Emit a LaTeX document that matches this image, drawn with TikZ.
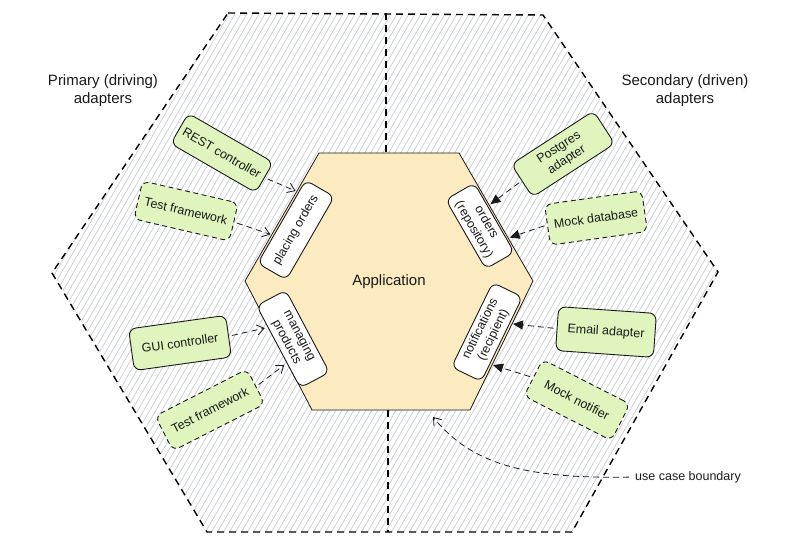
\documentclass[tikz,border=0pt]{standalone}
\usepackage{fontspec,xcolor,tikz}
\setmainfont{Liberation Sans}
\usetikzlibrary{arrows.meta,calc}
\definecolor{ink}{HTML}{1A1A1A}
\definecolor{hatch}{HTML}{CDD1D8}
\definecolor{core}{HTML}{FCEAC0}
\definecolor{adapt}{HTML}{DFF5BD}
\newcommand{\hlbl}{\fontsize{15}{18}\selectfont}
\newcommand{\lbl}{\fontsize{12.5}{14.5}\selectfont}

\begin{document}
\begin{tikzpicture}[x=1pt,y=-1pt,font=\lbl,text=ink,
  adapter/.style={draw=ink,line width=0.9pt,fill=adapt,rounded corners=7pt,minimum width=98pt,minimum height=39pt,inner sep=2pt,align=center},
  mockbox/.style={adapter,dash pattern=on 5pt off 3.5pt},
  port/.style={draw=ink,line width=0.9pt,fill=white,rounded corners=7pt,minimum height=33pt,inner sep=2pt,align=center},
  drive/.style={draw=ink,line width=0.8pt,dash pattern=on 6pt off 4pt,shorten <=3pt,shorten >=3pt,-{Straight Barb[length=7pt,width=10pt]}},
  driven/.style={drive,-{Triangle[length=10pt,width=9pt]}},
  bound/.style={draw=black,line width=1.4pt,dash pattern=on 7pt off 5pt}]
\useasboundingbox (0,0) rectangle (792,549);
% hexagon corners
\coordinate (o1) at (228,13);  \coordinate (o2) at (543,15);  \coordinate (o3) at (718,272);
\coordinate (o4) at (572,532); \coordinate (o5) at (207,532); \coordinate (o6) at (52,273);
\coordinate (i1) at (319,153); \coordinate (i2) at (459,153); \coordinate (i3) at (533,281);
\coordinate (i4) at (470,410); \coordinate (i5) at (312,410); \coordinate (i6) at (245,281);
% hatched adapter ring
\begin{scope}
\clip (o1) -- (o2) -- (o3) -- (o4) -- (o5) -- (o6) -- cycle;
\foreach \i in {-330,-324,...,730}
  \draw[hatch,line width=0.8pt] (\i,545) -- ++(315,-545);
\end{scope}
\draw[bound] (o1) -- (o2) -- (o3) -- (o4) -- (o5) -- (o6) -- cycle;
\draw[bound] (386,13) -- (386,153);
\draw[bound] (388,410) -- (388,532);
% application core
\draw[ink,line width=0.8pt,fill=core] (i1) -- (i2) -- (i3) -- (i4) -- (i5) -- (i6) -- cycle;
\node[font=\hlbl] (app) at (389,282) {Application};
% ports
\node[port,minimum width=96pt,rotate=60] (placing) at (296,230) {placing orders};
\node[port,minimum width=93pt,rotate=-62] (managing) at (293,339) {managing\\products};
\node[port,minimum width=80pt,rotate=-60] (orders) at (480,226) {orders\\(repository)};
\node[port,minimum width=94pt,rotate=64] (notif) at (487,332) {notifications\\(recipient)};
% primary adapters
\node[adapter,minimum height=35pt,rotate=-30] (rest) at (222,153) {REST controller};
\node[mockbox,rotate=-13] (testa) at (186,211) {Test framework};
\node[adapter,minimum height=42pt,rotate=8] (gui) at (180,343) {GUI controller};
\node[mockbox,minimum width=103pt,rotate=27] (testb) at (210,410) {Test framework};
% secondary adapters
\node[adapter,rotate=33] (pg) at (563,154) {Postgres\\adapter};
\node[mockbox,minimum height=41pt,rotate=8] (mockdb) at (596,218) {Mock database};
\node[adapter,minimum height=44pt,rotate=-4] (email) at (606,332) {Email adapter};
\node[mockbox,minimum height=41pt,rotate=-27] (mocknot) at (577,400) {Mock notifier};
% connectors
\draw[drive] (rest.east) -- ($(placing.north)!0.7!(placing.north east)$);
\draw[drive] (testa.east) -- ($(placing.north)!0.33!(placing.north west)$);
\draw[drive] (gui.east) -- ($(managing.south)!0.47!(managing.south west)$);
\draw[drive] (testb.east) -- ($(managing.south)!0.39!(managing.south east)$);
\draw[driven] (pg.west) -- ($(orders.north)!0.33!(orders.north west)$);
\draw[driven] (mockdb.west) -- ($(orders.north)!0.6!(orders.north east)$);
\draw[driven] (email.west) -- ($(notif.south)!0.37!(notif.south east)$);
\draw[driven] (mocknot.west) -- ($(notif.south)!0.58!(notif.south west)$);
% labels
\node[font=\hlbl,align=center] (primary) at (103,91) {Primary (driving)\\adapters};
\node[font=\hlbl,align=center] (secondary) at (685,91) {Secondary (driven)\\adapters};
\node[anchor=west,inner sep=0] (ucb) at (635,477) {use case boundary};
\coordinate (ucbtip) at (433,417);
\draw[ink,line width=0.8pt,dash pattern=on 6pt off 4pt,shorten <=6pt,-{Straight Barb[length=7pt,width=10pt]}]
  (ucb.west) .. controls (520,479) and (470,462) .. (ucbtip);
\end{tikzpicture}
\end{document}
